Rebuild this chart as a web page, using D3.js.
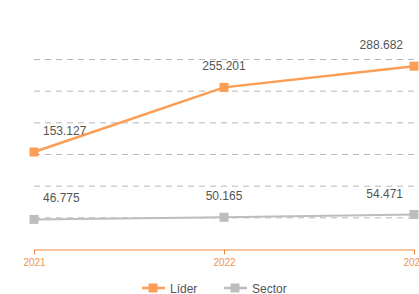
<!DOCTYPE html>
<html>
<head>
<meta charset="utf-8">
<script src="https://cdn.jsdelivr.net/npm/d3@7"></script>
<style>
  body { margin: 0; background: #fff; overflow: hidden; }
  svg { display: block; font-family: "Liberation Sans", Arial, sans-serif; }
</style>
</head>
<body>
<svg></svg>
<script>
var years = ["2021", "2022", "2023"];
var liderValues = [153.127, 255.201, 288.682];
var sectorValues = [46.775, 50.165, 54.471];
var gridTicks = [50, 100, 150, 200, 250, 300];

var svgWidth = 419, svgHeight = 294;
var svg = d3.select("svg")
  .attr("width", svgWidth)
  .attr("height", svgHeight);

var x = d3.scalePoint()
  .domain(years)
  .range([34, 414]);

var y = d3.scaleLinear()
  .domain([0, 300])
  .range([249, 59]);

var fmt = function(v) { return v.toFixed(3); };

// dashed grid
svg.append("g")
  .selectAll("line")
  .data(gridTicks)
  .enter()
  .append("line")
  .attr("x1", 34)
  .attr("x2", svgWidth)
  .attr("y1", d => y(d) + 0.5)
  .attr("y2", d => y(d) + 0.5)
  .attr("stroke", "#b8b8b8")
  .attr("stroke-width", 1)
  .attr("stroke-dasharray", "6,5");

// x axis
var axis = svg.append("g")
  .attr("transform", "translate(0," + (y(0) + 0.5) + ")")
  .call(d3.axisBottom(x).tickSize(5).tickPadding(4).tickSizeOuter(0));
axis.select(".domain").attr("stroke", "#ee8a45").attr("stroke-width", 1.2);
axis.selectAll(".tick line").attr("stroke", "#ee8a45");
axis.selectAll(".tick text")
  .attr("fill", "#f0934f")
  .style("font-size", "10px")
  .style("font-family", "Liberation Sans, Arial, sans-serif");

var series = [
  { name: "Líder", values: liderValues, color: "#fb9d54", width: 2.5, labelDy: -21 },
  { name: "Sector", values: sectorValues, color: "#bdbdbd", width: 2, labelDy: -21 }
];

var line = d3.line()
  .x((d, i) => x(years[i]))
  .y(d => y(d));

series.forEach(function(s) {
  svg.append("path")
    .datum(s.values)
    .attr("fill", "none")
    .attr("stroke", s.color)
    .attr("stroke-width", s.width)
    .attr("d", line);

  svg.selectAll(null)
    .data(s.values)
    .enter()
    .append("rect")
    .attr("x", (d, i) => x(years[i]) - 4.5)
    .attr("y", d => y(d) - 4.5)
    .attr("width", 9)
    .attr("height", 9)
    .attr("fill", s.color);

  svg.selectAll(null)
    .data(s.values)
    .enter()
    .append("text")
    .attr("x", function(d, i) {
      if (i == 0) return x(years[i]) + 9;
      if (i == years.length - 1) return x(years[i]) - 11;
      return x(years[i]);
    })
    .attr("y", d => y(d) + s.labelDy + 4)
    .attr("text-anchor", function(d, i) {
      if (i == 0) return "start";
      if (i == years.length - 1) return "end";
      return "middle";
    })
    .attr("fill", "#555")
    .style("font-size", "12px")
    .text(d => fmt(d));
});

// legend
var legend = svg.append("g").attr("transform", "translate(0,288)");
var legendItems = [
  { name: "Líder", color: "#fb9d54", x: 142 },
  { name: "Sector", color: "#bdbdbd", x: 224 }
];
legendItems.forEach(function(l) {
  legend.append("line")
    .attr("x1", l.x).attr("x2", l.x + 23)
    .attr("y1", 0).attr("y2", 0)
    .attr("stroke", l.color).attr("stroke-width", 2.5);
  legend.append("rect")
    .attr("x", l.x + 6.5).attr("y", -4.5)
    .attr("width", 9).attr("height", 9)
    .attr("fill", l.color);
  legend.append("text")
    .attr("x", l.x + 28)
    .attr("y", 4.5)
    .attr("fill", "#555")
    .style("font-size", "12px")
    .text(l.name);
});
</script>
</body>
</html>
